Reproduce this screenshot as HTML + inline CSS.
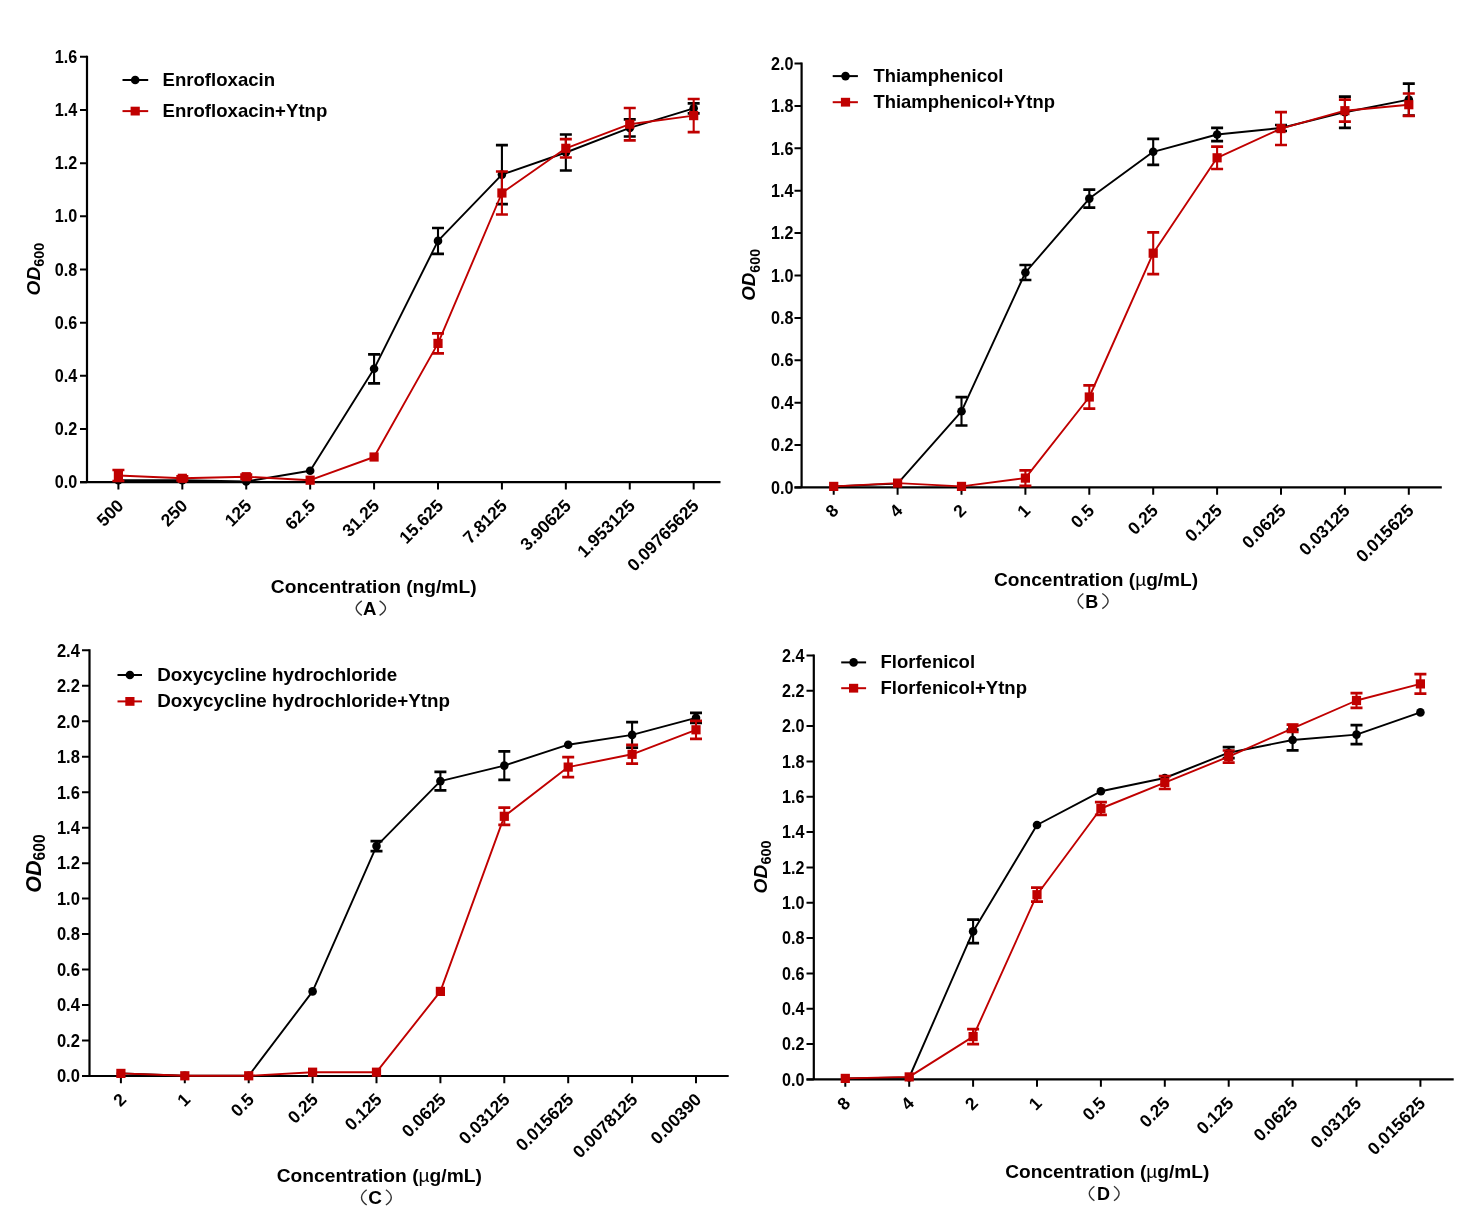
<!DOCTYPE html>
<html><head><meta charset="utf-8"><style>
html,body{margin:0;padding:0;background:#fff;}
svg{display:block;filter:blur(0.4px);}
text{font-family:"Liberation Sans", sans-serif;font-weight:bold;fill:#000;}
</style></head><body>
<svg width="1476" height="1221" viewBox="0 0 1476 1221">
<rect width="1476" height="1221" fill="#fff"/>
<g id="pA">
<path d="M87 55.8V482.2M80 482.2H720.5" stroke="#000" stroke-width="2.2" fill="none"/>
<path d="M80 482.2H87M80 429.02H87M80 375.85H87M80 322.68H87M80 269.5H87M80 216.32H87M80 163.15H87M80 109.98H87M80 56.8H87M118.4 482.2V489.5M182.32 482.2V489.5M246.24 482.2V489.5M310.16 482.2V489.5M374.08 482.2V489.5M438 482.2V489.5M501.92 482.2V489.5M565.84 482.2V489.5M629.76 482.2V489.5M693.68 482.2V489.5" stroke="#000" stroke-width="2" fill="none"/>
<text transform="translate(77.3 488.36) scale(0.92 1)" font-size="17.6" text-anchor="end">0.0</text>
<text transform="translate(77.3 435.19) scale(0.92 1)" font-size="17.6" text-anchor="end">0.2</text>
<text transform="translate(77.3 382.01) scale(0.92 1)" font-size="17.6" text-anchor="end">0.4</text>
<text transform="translate(77.3 328.84) scale(0.92 1)" font-size="17.6" text-anchor="end">0.6</text>
<text transform="translate(77.3 275.66) scale(0.92 1)" font-size="17.6" text-anchor="end">0.8</text>
<text transform="translate(77.3 222.48) scale(0.92 1)" font-size="17.6" text-anchor="end">1.0</text>
<text transform="translate(77.3 169.31) scale(0.92 1)" font-size="17.6" text-anchor="end">1.2</text>
<text transform="translate(77.3 116.14) scale(0.92 1)" font-size="17.6" text-anchor="end">1.4</text>
<text transform="translate(77.3 62.96) scale(0.92 1)" font-size="17.6" text-anchor="end">1.6</text>
<text transform="translate(124.7 506.8) rotate(-45)" font-size="17.5" text-anchor="end">500</text>
<text transform="translate(188.62 506.8) rotate(-45)" font-size="17.5" text-anchor="end">250</text>
<text transform="translate(252.54 506.8) rotate(-45)" font-size="17.5" text-anchor="end">125</text>
<text transform="translate(316.46 506.8) rotate(-45)" font-size="17.5" text-anchor="end">62.5</text>
<text transform="translate(380.38 506.8) rotate(-45)" font-size="17.5" text-anchor="end">31.25</text>
<text transform="translate(444.3 506.8) rotate(-45)" font-size="17.5" text-anchor="end">15.625</text>
<text transform="translate(508.22 506.8) rotate(-45)" font-size="17.5" text-anchor="end">7.8125</text>
<text transform="translate(572.14 506.8) rotate(-45)" font-size="17.5" text-anchor="end">3.90625</text>
<text transform="translate(636.06 506.8) rotate(-45)" font-size="17.5" text-anchor="end">1.953125</text>
<text transform="translate(699.98 506.8) rotate(-45)" font-size="17.5" text-anchor="end">0.09765625</text>
<path d="M118.4 480.2 L182.32 480.2 L246.24 481.4 L310.16 470.7 L374.08 368.8 L438 240.9 L501.92 174.6 L565.84 152.5 L629.76 127.9 L693.68 108.3" stroke="#000" stroke-width="1.9" fill="none" stroke-linejoin="round"/>
<path d="M374.08 354.3V383.3M438 228V253.8M501.92 145.1V204.1M565.84 134.5V170.5M629.76 119.3V136.5M693.68 103.3V113.3" stroke="#000" stroke-width="2.1" fill="none"/>
<path d="M368.08 354.3H380.08M368.08 383.3H380.08M432 228H444M432 253.8H444M495.92 145.1H507.92M495.92 204.1H507.92M559.84 134.5H571.84M559.84 170.5H571.84M623.76 119.3H635.76M623.76 136.5H635.76M687.68 103.3H699.68M687.68 113.3H699.68" stroke="#000" stroke-width="2.7" fill="none"/>
<circle cx="118.4" cy="480.2" r="4.3" fill="#000"/>
<circle cx="182.32" cy="480.2" r="4.3" fill="#000"/>
<circle cx="246.24" cy="481.4" r="4.3" fill="#000"/>
<circle cx="310.16" cy="470.7" r="4.3" fill="#000"/>
<circle cx="374.08" cy="368.8" r="4.3" fill="#000"/>
<circle cx="438" cy="240.9" r="4.3" fill="#000"/>
<circle cx="501.92" cy="174.6" r="4.3" fill="#000"/>
<circle cx="565.84" cy="152.5" r="4.3" fill="#000"/>
<circle cx="629.76" cy="127.9" r="4.3" fill="#000"/>
<circle cx="693.68" cy="108.3" r="4.3" fill="#000"/>
<path d="M118.4 475.5 L182.32 478.3 L246.24 476.7 L310.16 480.2 L374.08 457 L438 343.4 L501.92 193 L565.84 148.3 L629.76 124.2 L693.68 115.6" stroke="#c00000" stroke-width="1.9" fill="none" stroke-linejoin="round"/>
<path d="M118.4 470V481M182.32 476.3V480.3M246.24 474.7V478.7M438 333.4V353.4M501.92 171.5V214.5M565.84 139.1V157.5M629.76 108V140.4M693.68 99V132.2" stroke="#c00000" stroke-width="2.1" fill="none"/>
<path d="M112.4 470H124.4M112.4 481H124.4M176.32 476.3H188.32M176.32 480.3H188.32M240.24 474.7H252.24M240.24 478.7H252.24M432 333.4H444M432 353.4H444M495.92 171.5H507.92M495.92 214.5H507.92M559.84 139.1H571.84M559.84 157.5H571.84M623.76 108H635.76M623.76 140.4H635.76M687.68 99H699.68M687.68 132.2H699.68" stroke="#c00000" stroke-width="2.7" fill="none"/>
<rect x="113.8" y="470.9" width="9.2" height="9.2" fill="#c00000"/>
<rect x="177.72" y="473.7" width="9.2" height="9.2" fill="#c00000"/>
<rect x="241.64" y="472.1" width="9.2" height="9.2" fill="#c00000"/>
<rect x="305.56" y="475.6" width="9.2" height="9.2" fill="#c00000"/>
<rect x="369.48" y="452.4" width="9.2" height="9.2" fill="#c00000"/>
<rect x="433.4" y="338.8" width="9.2" height="9.2" fill="#c00000"/>
<rect x="497.32" y="188.4" width="9.2" height="9.2" fill="#c00000"/>
<rect x="561.24" y="143.7" width="9.2" height="9.2" fill="#c00000"/>
<rect x="625.16" y="119.6" width="9.2" height="9.2" fill="#c00000"/>
<rect x="689.08" y="111" width="9.2" height="9.2" fill="#c00000"/>
<path d="M122.5 80H148.2" stroke="#000" stroke-width="2"/>
<circle cx="135.2" cy="80" r="4.3" fill="#000"/>
<path d="M122.5 111.1H148.2" stroke="#c00000" stroke-width="2"/>
<rect x="130.6" y="106.7" width="9.2" height="8.8" fill="#c00000"/>
<text x="162.5" y="85.7" font-size="18.6">Enrofloxacin</text>
<text x="162.5" y="116.9" font-size="18.6">Enrofloxacin+Ytnp</text>
<text x="373.7" y="592.5" font-size="19.2" text-anchor="middle">Concentration (ng/mL)</text>
<text transform="translate(369.7 614.8) scale(1.0 1)" font-size="18.6" text-anchor="middle">A</text>
<path d="M361.8 600.8Q350.6 608.1 361.8 615.4M379.6 600.8Q391.4 608.1 379.6 615.4" stroke="#333" stroke-width="1.4" fill="none"/>
<text transform="translate(40.1 295.5) rotate(-90)" font-size="19.2"><tspan font-style="italic">OD</tspan><tspan font-size="14.4" dy="4.1">600</tspan></text>
</g>
<g id="pB">
<path d="M801.6 62.6V487.4M794.5 487.4H1441.8" stroke="#000" stroke-width="2.2" fill="none"/>
<path d="M794.5 487.4H801.6M794.5 445.02H801.6M794.5 402.64H801.6M794.5 360.26H801.6M794.5 317.88H801.6M794.5 275.5H801.6M794.5 233.12H801.6M794.5 190.74H801.6M794.5 148.36H801.6M794.5 105.98H801.6M794.5 63.6H801.6M833.7 487.4V494.7M897.6 487.4V494.7M961.5 487.4V494.7M1025.4 487.4V494.7M1089.3 487.4V494.7M1153.2 487.4V494.7M1217.1 487.4V494.7M1281 487.4V494.7M1344.9 487.4V494.7M1408.8 487.4V494.7" stroke="#000" stroke-width="2" fill="none"/>
<text transform="translate(793.6 493.56) scale(0.92 1)" font-size="17.6" text-anchor="end">0.0</text>
<text transform="translate(793.6 451.18) scale(0.92 1)" font-size="17.6" text-anchor="end">0.2</text>
<text transform="translate(793.6 408.8) scale(0.92 1)" font-size="17.6" text-anchor="end">0.4</text>
<text transform="translate(793.6 366.42) scale(0.92 1)" font-size="17.6" text-anchor="end">0.6</text>
<text transform="translate(793.6 324.04) scale(0.92 1)" font-size="17.6" text-anchor="end">0.8</text>
<text transform="translate(793.6 281.66) scale(0.92 1)" font-size="17.6" text-anchor="end">1.0</text>
<text transform="translate(793.6 239.28) scale(0.92 1)" font-size="17.6" text-anchor="end">1.2</text>
<text transform="translate(793.6 196.9) scale(0.92 1)" font-size="17.6" text-anchor="end">1.4</text>
<text transform="translate(793.6 154.52) scale(0.92 1)" font-size="17.6" text-anchor="end">1.6</text>
<text transform="translate(793.6 112.14) scale(0.92 1)" font-size="17.6" text-anchor="end">1.8</text>
<text transform="translate(793.6 69.76) scale(0.92 1)" font-size="17.6" text-anchor="end">2.0</text>
<text transform="translate(839.7 511.7) rotate(-45)" font-size="17.5" text-anchor="end">8</text>
<text transform="translate(903.6 511.7) rotate(-45)" font-size="17.5" text-anchor="end">4</text>
<text transform="translate(967.5 511.7) rotate(-45)" font-size="17.5" text-anchor="end">2</text>
<text transform="translate(1031.4 511.7) rotate(-45)" font-size="17.5" text-anchor="end">1</text>
<text transform="translate(1095.3 511.7) rotate(-45)" font-size="17.5" text-anchor="end">0.5</text>
<text transform="translate(1159.2 511.7) rotate(-45)" font-size="17.5" text-anchor="end">0.25</text>
<text transform="translate(1223.1 511.7) rotate(-45)" font-size="17.5" text-anchor="end">0.125</text>
<text transform="translate(1287 511.7) rotate(-45)" font-size="17.5" text-anchor="end">0.0625</text>
<text transform="translate(1350.9 511.7) rotate(-45)" font-size="17.5" text-anchor="end">0.03125</text>
<text transform="translate(1414.8 511.7) rotate(-45)" font-size="17.5" text-anchor="end">0.015625</text>
<path d="M833.7 486.4 L897.6 483.6 L961.5 411.3 L1025.4 272.5 L1089.3 198.6 L1153.2 151.8 L1217.1 134.5 L1281 128 L1344.9 112.2 L1408.8 99.6" stroke="#000" stroke-width="1.9" fill="none" stroke-linejoin="round"/>
<path d="M961.5 397.1V425.5M1025.4 265V280M1089.3 189.6V207.6M1153.2 138.8V164.8M1217.1 127.8V141.2M1281 125V131M1344.9 96.6V127.8M1408.8 83.6V115.6" stroke="#000" stroke-width="2.1" fill="none"/>
<path d="M955.5 397.1H967.5M955.5 425.5H967.5M1019.4 265H1031.4M1019.4 280H1031.4M1083.3 189.6H1095.3M1083.3 207.6H1095.3M1147.2 138.8H1159.2M1147.2 164.8H1159.2M1211.1 127.8H1223.1M1211.1 141.2H1223.1M1275 125H1287M1275 131H1287M1338.9 96.6H1350.9M1338.9 127.8H1350.9M1402.8 83.6H1414.8M1402.8 115.6H1414.8" stroke="#000" stroke-width="2.7" fill="none"/>
<circle cx="833.7" cy="486.4" r="4.3" fill="#000"/>
<circle cx="897.6" cy="483.6" r="4.3" fill="#000"/>
<circle cx="961.5" cy="411.3" r="4.3" fill="#000"/>
<circle cx="1025.4" cy="272.5" r="4.3" fill="#000"/>
<circle cx="1089.3" cy="198.6" r="4.3" fill="#000"/>
<circle cx="1153.2" cy="151.8" r="4.3" fill="#000"/>
<circle cx="1217.1" cy="134.5" r="4.3" fill="#000"/>
<circle cx="1281" cy="128" r="4.3" fill="#000"/>
<circle cx="1344.9" cy="112.2" r="4.3" fill="#000"/>
<circle cx="1408.8" cy="99.6" r="4.3" fill="#000"/>
<path d="M833.7 486.4 L897.6 483.1 L961.5 486.4 L1025.4 478.1 L1089.3 397 L1153.2 253.2 L1217.1 157.8 L1281 128.6 L1344.9 110.7 L1408.8 104.7" stroke="#c00000" stroke-width="1.9" fill="none" stroke-linejoin="round"/>
<path d="M1025.4 470.4V485.8M1089.3 385.4V408.6M1153.2 232.3V274.1M1217.1 146.6V169M1281 112.2V145M1344.9 99.7V121.7M1408.8 93.5V115.9" stroke="#c00000" stroke-width="2.1" fill="none"/>
<path d="M1019.4 470.4H1031.4M1019.4 485.8H1031.4M1083.3 385.4H1095.3M1083.3 408.6H1095.3M1147.2 232.3H1159.2M1147.2 274.1H1159.2M1211.1 146.6H1223.1M1211.1 169H1223.1M1275 112.2H1287M1275 145H1287M1338.9 99.7H1350.9M1338.9 121.7H1350.9M1402.8 93.5H1414.8M1402.8 115.9H1414.8" stroke="#c00000" stroke-width="2.7" fill="none"/>
<rect x="829.1" y="481.8" width="9.2" height="9.2" fill="#c00000"/>
<rect x="893" y="478.5" width="9.2" height="9.2" fill="#c00000"/>
<rect x="956.9" y="481.8" width="9.2" height="9.2" fill="#c00000"/>
<rect x="1020.8" y="473.5" width="9.2" height="9.2" fill="#c00000"/>
<rect x="1084.7" y="392.4" width="9.2" height="9.2" fill="#c00000"/>
<rect x="1148.6" y="248.6" width="9.2" height="9.2" fill="#c00000"/>
<rect x="1212.5" y="153.2" width="9.2" height="9.2" fill="#c00000"/>
<rect x="1276.4" y="124" width="9.2" height="9.2" fill="#c00000"/>
<rect x="1340.3" y="106.1" width="9.2" height="9.2" fill="#c00000"/>
<rect x="1404.2" y="100.1" width="9.2" height="9.2" fill="#c00000"/>
<path d="M832.7 76.1H857.9" stroke="#000" stroke-width="2"/>
<circle cx="845.5" cy="76.1" r="4.3" fill="#000"/>
<path d="M832.7 102.2H857.9" stroke="#c00000" stroke-width="2"/>
<rect x="840.9" y="97.8" width="9.2" height="8.8" fill="#c00000"/>
<text x="873.5" y="82.3" font-size="18.4">Thiamphenicol</text>
<text x="873.5" y="107.8" font-size="18.4">Thiamphenicol+Ytnp</text>
<text x="1096.1" y="586" font-size="19.1" text-anchor="middle">Concentration (<tspan style="font-weight:normal">µ</tspan>g/mL)</text>
<text transform="translate(1091.8 607.8) scale(0.98 1)" font-size="18.4" text-anchor="middle">B</text>
<path d="M1083.4 593.5Q1072.8 601.05 1083.4 608.6M1102.3 593.5Q1113.9 601.05 1102.3 608.6" stroke="#333" stroke-width="1.4" fill="none"/>
<text transform="translate(755.4 300.8) rotate(-90)" font-size="18.8"><tspan font-style="italic">OD</tspan><tspan font-size="14.2" dy="4.4">600</tspan></text>
</g>
<g id="pC">
<path d="M89.5 649.3V1076M82 1076H728.7" stroke="#000" stroke-width="2.2" fill="none"/>
<path d="M82 1076H89.5M82 1040.53H89.5M82 1005.05H89.5M82 969.58H89.5M82 934.1H89.5M82 898.62H89.5M82 863.15H89.5M82 827.67H89.5M82 792.2H89.5M82 756.72H89.5M82 721.25H89.5M82 685.77H89.5M82 650.3H89.5M120.9 1076V1083.3M184.8 1076V1083.3M248.7 1076V1083.3M312.6 1076V1083.3M376.5 1076V1083.3M440.4 1076V1083.3M504.3 1076V1083.3M568.2 1076V1083.3M632.1 1076V1083.3M696 1076V1083.3" stroke="#000" stroke-width="2" fill="none"/>
<text transform="translate(79.9 1082.3) scale(0.92 1)" font-size="18.0" text-anchor="end">0.0</text>
<text transform="translate(79.9 1046.83) scale(0.92 1)" font-size="18.0" text-anchor="end">0.2</text>
<text transform="translate(79.9 1011.35) scale(0.92 1)" font-size="18.0" text-anchor="end">0.4</text>
<text transform="translate(79.9 975.88) scale(0.92 1)" font-size="18.0" text-anchor="end">0.6</text>
<text transform="translate(79.9 940.4) scale(0.92 1)" font-size="18.0" text-anchor="end">0.8</text>
<text transform="translate(79.9 904.92) scale(0.92 1)" font-size="18.0" text-anchor="end">1.0</text>
<text transform="translate(79.9 869.45) scale(0.92 1)" font-size="18.0" text-anchor="end">1.2</text>
<text transform="translate(79.9 833.97) scale(0.92 1)" font-size="18.0" text-anchor="end">1.4</text>
<text transform="translate(79.9 798.5) scale(0.92 1)" font-size="18.0" text-anchor="end">1.6</text>
<text transform="translate(79.9 763.02) scale(0.92 1)" font-size="18.0" text-anchor="end">1.8</text>
<text transform="translate(79.9 727.55) scale(0.92 1)" font-size="18.0" text-anchor="end">2.0</text>
<text transform="translate(79.9 692.07) scale(0.92 1)" font-size="18.0" text-anchor="end">2.2</text>
<text transform="translate(79.9 656.6) scale(0.92 1)" font-size="18.0" text-anchor="end">2.4</text>
<text transform="translate(127.4 1100.5) rotate(-45)" font-size="17.5" text-anchor="end">2</text>
<text transform="translate(191.3 1100.5) rotate(-45)" font-size="17.5" text-anchor="end">1</text>
<text transform="translate(255.2 1100.5) rotate(-45)" font-size="17.5" text-anchor="end">0.5</text>
<text transform="translate(319.1 1100.5) rotate(-45)" font-size="17.5" text-anchor="end">0.25</text>
<text transform="translate(383 1100.5) rotate(-45)" font-size="17.5" text-anchor="end">0.125</text>
<text transform="translate(446.9 1100.5) rotate(-45)" font-size="17.5" text-anchor="end">0.0625</text>
<text transform="translate(510.8 1100.5) rotate(-45)" font-size="17.5" text-anchor="end">0.03125</text>
<text transform="translate(574.7 1100.5) rotate(-45)" font-size="17.5" text-anchor="end">0.015625</text>
<text transform="translate(638.6 1100.5) rotate(-45)" font-size="17.5" text-anchor="end">0.0078125</text>
<text transform="translate(702.5 1100.5) rotate(-45)" font-size="17.5" text-anchor="end">0.00390</text>
<path d="M120.9 1073.4 L184.8 1075.8 L248.7 1075.8 L312.6 991.4 L376.5 846.1 L440.4 781.1 L504.3 765.6 L568.2 744.7 L632.1 734.9 L696 717.9" stroke="#000" stroke-width="1.9" fill="none" stroke-linejoin="round"/>
<path d="M376.5 841.1V851.1M440.4 771.8V790.4M504.3 751.3V779.9M632.1 722.1V747.7M696 712.9V722.9" stroke="#000" stroke-width="2.1" fill="none"/>
<path d="M370.5 841.1H382.5M370.5 851.1H382.5M434.4 771.8H446.4M434.4 790.4H446.4M498.3 751.3H510.3M498.3 779.9H510.3M626.1 722.1H638.1M626.1 747.7H638.1M690 712.9H702M690 722.9H702" stroke="#000" stroke-width="2.7" fill="none"/>
<circle cx="120.9" cy="1073.4" r="4.3" fill="#000"/>
<circle cx="184.8" cy="1075.8" r="4.3" fill="#000"/>
<circle cx="248.7" cy="1075.8" r="4.3" fill="#000"/>
<circle cx="312.6" cy="991.4" r="4.3" fill="#000"/>
<circle cx="376.5" cy="846.1" r="4.3" fill="#000"/>
<circle cx="440.4" cy="781.1" r="4.3" fill="#000"/>
<circle cx="504.3" cy="765.6" r="4.3" fill="#000"/>
<circle cx="568.2" cy="744.7" r="4.3" fill="#000"/>
<circle cx="632.1" cy="734.9" r="4.3" fill="#000"/>
<circle cx="696" cy="717.9" r="4.3" fill="#000"/>
<path d="M120.9 1073.4 L184.8 1075.8 L248.7 1075.8 L312.6 1072.2 L376.5 1072.2 L440.4 991.4 L504.3 816.3 L568.2 767.1 L632.1 754.3 L696 729.8" stroke="#c00000" stroke-width="1.9" fill="none" stroke-linejoin="round"/>
<path d="M504.3 807.7V824.9M568.2 757.1V777.1M632.1 744.9V763.7M696 720.8V738.8" stroke="#c00000" stroke-width="2.1" fill="none"/>
<path d="M498.3 807.7H510.3M498.3 824.9H510.3M562.2 757.1H574.2M562.2 777.1H574.2M626.1 744.9H638.1M626.1 763.7H638.1M690 720.8H702M690 738.8H702" stroke="#c00000" stroke-width="2.7" fill="none"/>
<rect x="116.3" y="1068.8" width="9.2" height="9.2" fill="#c00000"/>
<rect x="180.2" y="1071.2" width="9.2" height="9.2" fill="#c00000"/>
<rect x="244.1" y="1071.2" width="9.2" height="9.2" fill="#c00000"/>
<rect x="308" y="1067.6" width="9.2" height="9.2" fill="#c00000"/>
<rect x="371.9" y="1067.6" width="9.2" height="9.2" fill="#c00000"/>
<rect x="435.8" y="986.8" width="9.2" height="9.2" fill="#c00000"/>
<rect x="499.7" y="811.7" width="9.2" height="9.2" fill="#c00000"/>
<rect x="563.6" y="762.5" width="9.2" height="9.2" fill="#c00000"/>
<rect x="627.5" y="749.7" width="9.2" height="9.2" fill="#c00000"/>
<rect x="691.4" y="725.2" width="9.2" height="9.2" fill="#c00000"/>
<path d="M117.5 675H142" stroke="#000" stroke-width="2"/>
<circle cx="129.9" cy="675" r="4.3" fill="#000"/>
<path d="M117.5 701.4H142" stroke="#c00000" stroke-width="2"/>
<rect x="125.3" y="697" width="9.2" height="8.8" fill="#c00000"/>
<text x="157.2" y="680.6" font-size="18.8">Doxycycline hydrochloride</text>
<text x="157.2" y="706.7" font-size="18.8">Doxycycline hydrochloride+Ytnp</text>
<text x="379.3" y="1181.7" font-size="19.2" text-anchor="middle">Concentration (<tspan style="font-weight:normal">µ</tspan>g/mL)</text>
<text transform="translate(375.1 1204) scale(1.0 1)" font-size="19.0" text-anchor="middle">C</text>
<path d="M366.7 1189.8Q356.3 1197.4 366.7 1205M385.9 1189.8Q396.7 1197.4 385.9 1205" stroke="#333" stroke-width="1.4" fill="none"/>
<text transform="translate(41 892.7) rotate(-90)" font-size="21.5"><tspan font-style="italic">OD</tspan><tspan font-size="15.6" dy="4.2">600</tspan></text>
</g>
<g id="pD">
<path d="M813.8 654.4V1079.4M806.5 1079.4H1453.7" stroke="#000" stroke-width="2.2" fill="none"/>
<path d="M806.5 1079.4H813.8M806.5 1044.07H813.8M806.5 1008.73H813.8M806.5 973.4H813.8M806.5 938.07H813.8M806.5 902.73H813.8M806.5 867.4H813.8M806.5 832.07H813.8M806.5 796.73H813.8M806.5 761.4H813.8M806.5 726.07H813.8M806.5 690.73H813.8M806.5 655.4H813.8M845.3 1079.4V1086.7M909.2 1079.4V1086.7M973.1 1079.4V1086.7M1037 1079.4V1086.7M1100.9 1079.4V1086.7M1164.8 1079.4V1086.7M1228.7 1079.4V1086.7M1292.6 1079.4V1086.7M1356.5 1079.4V1086.7M1420.4 1079.4V1086.7" stroke="#000" stroke-width="2" fill="none"/>
<text transform="translate(804.5 1085.56) scale(0.92 1)" font-size="17.6" text-anchor="end">0.0</text>
<text transform="translate(804.5 1050.23) scale(0.92 1)" font-size="17.6" text-anchor="end">0.2</text>
<text transform="translate(804.5 1014.89) scale(0.92 1)" font-size="17.6" text-anchor="end">0.4</text>
<text transform="translate(804.5 979.56) scale(0.92 1)" font-size="17.6" text-anchor="end">0.6</text>
<text transform="translate(804.5 944.23) scale(0.92 1)" font-size="17.6" text-anchor="end">0.8</text>
<text transform="translate(804.5 908.89) scale(0.92 1)" font-size="17.6" text-anchor="end">1.0</text>
<text transform="translate(804.5 873.56) scale(0.92 1)" font-size="17.6" text-anchor="end">1.2</text>
<text transform="translate(804.5 838.23) scale(0.92 1)" font-size="17.6" text-anchor="end">1.4</text>
<text transform="translate(804.5 802.89) scale(0.92 1)" font-size="17.6" text-anchor="end">1.6</text>
<text transform="translate(804.5 767.56) scale(0.92 1)" font-size="17.6" text-anchor="end">1.8</text>
<text transform="translate(804.5 732.23) scale(0.92 1)" font-size="17.6" text-anchor="end">2.0</text>
<text transform="translate(804.5 696.89) scale(0.92 1)" font-size="17.6" text-anchor="end">2.2</text>
<text transform="translate(804.5 661.56) scale(0.92 1)" font-size="17.6" text-anchor="end">2.4</text>
<text transform="translate(851.3 1104.4) rotate(-45)" font-size="17.5" text-anchor="end">8</text>
<text transform="translate(915.2 1104.4) rotate(-45)" font-size="17.5" text-anchor="end">4</text>
<text transform="translate(979.1 1104.4) rotate(-45)" font-size="17.5" text-anchor="end">2</text>
<text transform="translate(1043 1104.4) rotate(-45)" font-size="17.5" text-anchor="end">1</text>
<text transform="translate(1106.9 1104.4) rotate(-45)" font-size="17.5" text-anchor="end">0.5</text>
<text transform="translate(1170.8 1104.4) rotate(-45)" font-size="17.5" text-anchor="end">0.25</text>
<text transform="translate(1234.7 1104.4) rotate(-45)" font-size="17.5" text-anchor="end">0.125</text>
<text transform="translate(1298.6 1104.4) rotate(-45)" font-size="17.5" text-anchor="end">0.0625</text>
<text transform="translate(1362.5 1104.4) rotate(-45)" font-size="17.5" text-anchor="end">0.03125</text>
<text transform="translate(1426.4 1104.4) rotate(-45)" font-size="17.5" text-anchor="end">0.015625</text>
<path d="M845.3 1078.4 L909.2 1077.5 L973.1 931.4 L1037 825 L1100.9 791.3 L1164.8 778 L1228.7 752.7 L1292.6 740 L1356.5 734.6 L1420.4 712.4" stroke="#000" stroke-width="1.9" fill="none" stroke-linejoin="round"/>
<path d="M973.1 919.6V943.2M1228.7 747.2V758.2M1292.6 729.6V750.4M1356.5 725.1V744.1" stroke="#000" stroke-width="2.1" fill="none"/>
<path d="M967.1 919.6H979.1M967.1 943.2H979.1M1222.7 747.2H1234.7M1222.7 758.2H1234.7M1286.6 729.6H1298.6M1286.6 750.4H1298.6M1350.5 725.1H1362.5M1350.5 744.1H1362.5" stroke="#000" stroke-width="2.7" fill="none"/>
<circle cx="845.3" cy="1078.4" r="4.3" fill="#000"/>
<circle cx="909.2" cy="1077.5" r="4.3" fill="#000"/>
<circle cx="973.1" cy="931.4" r="4.3" fill="#000"/>
<circle cx="1037" cy="825" r="4.3" fill="#000"/>
<circle cx="1100.9" cy="791.3" r="4.3" fill="#000"/>
<circle cx="1164.8" cy="778" r="4.3" fill="#000"/>
<circle cx="1228.7" cy="752.7" r="4.3" fill="#000"/>
<circle cx="1292.6" cy="740" r="4.3" fill="#000"/>
<circle cx="1356.5" cy="734.6" r="4.3" fill="#000"/>
<circle cx="1420.4" cy="712.4" r="4.3" fill="#000"/>
<path d="M845.3 1078.4 L909.2 1076.9 L973.1 1036.6 L1037 894.7 L1100.9 808.5 L1164.8 782.6 L1228.7 756.6 L1292.6 728.3 L1356.5 700.5 L1420.4 683.9" stroke="#c00000" stroke-width="1.9" fill="none" stroke-linejoin="round"/>
<path d="M973.1 1029.1V1044.1M1037 887.7V901.7M1100.9 802.2V814.8M1164.8 776.2V789M1228.7 750.5V762.7M1292.6 724.6V732M1356.5 693.2V707.8M1420.4 674.1V693.7" stroke="#c00000" stroke-width="2.1" fill="none"/>
<path d="M967.1 1029.1H979.1M967.1 1044.1H979.1M1031 887.7H1043M1031 901.7H1043M1094.9 802.2H1106.9M1094.9 814.8H1106.9M1158.8 776.2H1170.8M1158.8 789H1170.8M1222.7 750.5H1234.7M1222.7 762.7H1234.7M1286.6 724.6H1298.6M1286.6 732H1298.6M1350.5 693.2H1362.5M1350.5 707.8H1362.5M1414.4 674.1H1426.4M1414.4 693.7H1426.4" stroke="#c00000" stroke-width="2.7" fill="none"/>
<rect x="840.7" y="1073.8" width="9.2" height="9.2" fill="#c00000"/>
<rect x="904.6" y="1072.3" width="9.2" height="9.2" fill="#c00000"/>
<rect x="968.5" y="1032" width="9.2" height="9.2" fill="#c00000"/>
<rect x="1032.4" y="890.1" width="9.2" height="9.2" fill="#c00000"/>
<rect x="1096.3" y="803.9" width="9.2" height="9.2" fill="#c00000"/>
<rect x="1160.2" y="778" width="9.2" height="9.2" fill="#c00000"/>
<rect x="1224.1" y="752" width="9.2" height="9.2" fill="#c00000"/>
<rect x="1288" y="723.7" width="9.2" height="9.2" fill="#c00000"/>
<rect x="1351.9" y="695.9" width="9.2" height="9.2" fill="#c00000"/>
<rect x="1415.8" y="679.3" width="9.2" height="9.2" fill="#c00000"/>
<path d="M841.2 662.4H866.1" stroke="#000" stroke-width="2"/>
<circle cx="853.6" cy="662.4" r="4.3" fill="#000"/>
<path d="M841.2 688.2H866.1" stroke="#c00000" stroke-width="2"/>
<rect x="849" y="683.8" width="9.2" height="8.8" fill="#c00000"/>
<text x="880.5" y="668.1" font-size="18.5">Florfenicol</text>
<text x="880.5" y="693.9" font-size="18.5">Florfenicol+Ytnp</text>
<text x="1107.3" y="1177.6" font-size="19.1" text-anchor="middle">Concentration (<tspan style="font-weight:normal">µ</tspan>g/mL)</text>
<text transform="translate(1103.4 1199.8) scale(0.98 1)" font-size="18.4" text-anchor="middle">D</text>
<path d="M1094.4 1186.2Q1084.2 1193.5 1094.4 1200.8M1114 1186.2Q1124.2 1193.5 1114 1200.8" stroke="#333" stroke-width="1.4" fill="none"/>
<text transform="translate(767 893.4) rotate(-90)" font-size="19.2"><tspan font-style="italic">OD</tspan><tspan font-size="14.4" dy="4.1">600</tspan></text>
</g>
</svg>
</body></html>
